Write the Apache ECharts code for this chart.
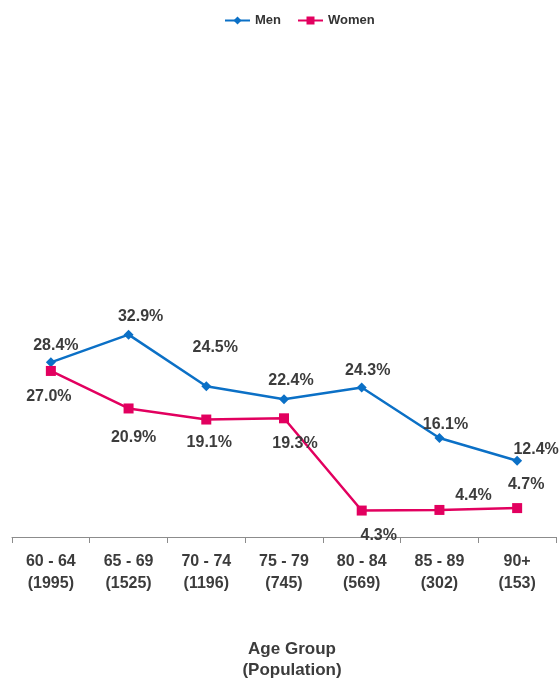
<!DOCTYPE html>
<html>
<head>
<meta charset="utf-8">
<script src="https://cdn.jsdelivr.net/npm/echarts@6/dist/echarts.min.js"></script>
<style>
  html, body { margin: 0; padding: 0; background: #fff; }
  #main { width: 560px; height: 686px; }
</style>
</head>
<body>
<div id="main"></div>
<script>
var ageGroups = ['60 - 64', '65 - 69', '70 - 74', '75 - 79', '80 - 84', '85 - 89', '90+'];
var population = [1995, 1525, 1196, 745, 569, 302, 153];
var men = [28.4, 32.9, 24.5, 22.4, 24.3, 16.1, 12.4];
var women = [27.0, 20.9, 19.1, 19.3, 4.3, 4.4, 4.7];

// label offsets (text centre relative to the point), placed by hand like the original
var menLabelOffset = [[5, -17], [12, -18], [9, -39], [7, -19], [6, -17], [6, -13], [19, -11]];
var womenLabelOffset = [[-2, 26], [5, 29], [3, 23], [11, 25], [17, 25], [34, -14], [9, -24]];

var font = "'Liberation Sans', Arial, sans-serif";

function withLabels(values, offsets) {
    return values.map(function (v, i) {
        return { value: v, label: { offset: offsets[i] } };
    });
}

var labelStyle = {
    show: true,
    position: 'inside',
    formatter: function (p) { return p.value.toFixed(1) + '%'; },
    color: '#3c3c3c',
    fontFamily: font,
    fontWeight: 'bold',
    fontSize: 16
};

var option = {
    animation: false,
    legend: {
        top: 9,
        left: 219,
        itemWidth: 25,
        itemHeight: 10,
        itemGap: 16,
        textStyle: { fontFamily: font, fontWeight: 'bold', fontSize: 13, color: '#333' },
        data: ['Men', 'Women']
    },
    grid: { left: 12, right: 4, top: 45, bottom: 148 },
    xAxis: {
        type: 'category',
        data: ageGroups,
        axisLine: { lineStyle: { color: '#8c8c8c', width: 1 } },
        axisTick: { show: true, length: 6, lineStyle: { color: '#8c8c8c' } },
        axisLabel: {
            margin: 14,
            interval: 0,
            fontFamily: font,
            fontWeight: 'bold',
            fontSize: 16,
            lineHeight: 22,
            color: '#3c3c3c',
            formatter: function (v, i) { return v + '\n(' + population[i] + ')'; }
        },
        name: 'Age Group\n(Population)',
        nameLocation: 'middle',
        nameGap: 102,
        nameTextStyle: {
            fontFamily: font, fontWeight: 'bold', fontSize: 17, lineHeight: 21,
            color: '#3c3c3c', padding: [0, 0, 0, 16]
        }
    },
    yAxis: {
        type: 'value',
        min: 0,
        max: 80,
        show: false
    },
    series: [
        {
            name: 'Men',
            type: 'line',
            data: withLabels(men, menLabelOffset),
            symbol: 'diamond',
            symbolSize: 10,
            color: '#0b70c6',
            lineStyle: { width: 2.5 },
            label: labelStyle
        },
        {
            name: 'Women',
            type: 'line',
            data: withLabels(women, womenLabelOffset),
            symbol: 'rect',
            symbolSize: 10,
            color: '#e2005f',
            lineStyle: { width: 2.5 },
            label: labelStyle
        }
    ]
};
var myChart = echarts.init(document.getElementById('main'));
myChart.setOption(option);
</script>
</body>
</html>
